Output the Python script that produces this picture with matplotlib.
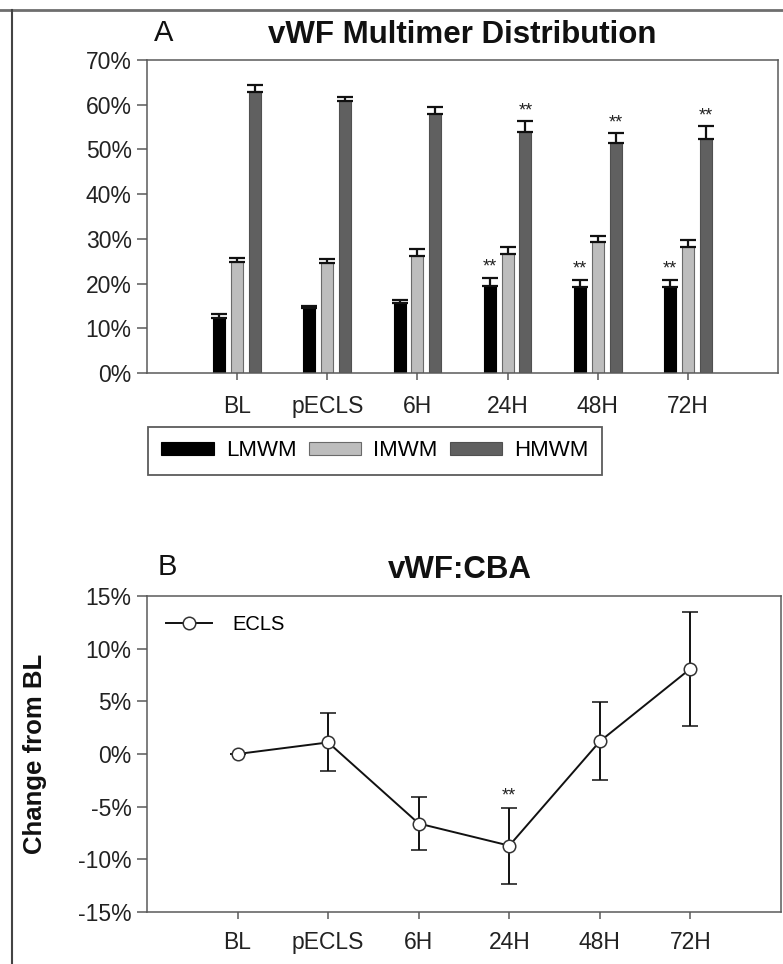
import numpy as np
import matplotlib
matplotlib.use('Agg')
import matplotlib.pyplot as plt
from matplotlib.lines import Line2D
from matplotlib.ticker import MultipleLocator, FuncFormatter

plt.rcParams['font.family'] = ['Liberation Sans', 'DejaVu Sans']

# data
categories = ['BL', 'pECLS', '6H', '24H', '48H', '72H']

lmwm = [12.2, 14.5, 15.6, 19.5, 19.2, 19.2]
lmwm_err = [0.9, 0.5, 0.7, 1.7, 1.5, 1.5]
imwm = [24.8, 24.5, 26.2, 26.6, 29.2, 28.2]
imwm_err = [1.0, 1.0, 1.6, 1.5, 1.4, 1.6]
hmwm = [62.9, 60.9, 57.9, 53.9, 51.4, 52.4]
hmwm_err = [1.5, 0.8, 1.7, 2.5, 2.3, 2.8]
lmwm_sig = [3, 4, 5]      # '**' over LMWM
hmwm_sig = [3, 4, 5]      # '**' over HMWM

cba = [0.0, 1.1, -6.6, -8.7, 1.2, 8.1]
cba_err = [0.0, 2.75, 2.55, 3.6, 3.7, 5.4]
cba_sig = [3]

W, H = 783, 964
fig = plt.figure(figsize=(W / 100, H / 100), dpi=100)

spine_c = '#5a5a5a'
tick_fs = 16.5

def style_axes(ax, xpad):
    for s in ax.spines.values():
        s.set_color(spine_c)
        s.set_linewidth(1.1)
    ax.tick_params(axis='y', direction='out', length=7, width=1.1, color=spine_c,
                   labelsize=tick_fs, pad=4, colors='#222222')
    ax.tick_params(axis='x', direction='out', length=5, width=1.1, color=spine_c,
                   labelsize=tick_fs, pad=xpad, colors='#222222')
    ax.set_xlim(-1, 6)
    ax.set_xticks(np.arange(len(categories)))
    ax.set_xticklabels(categories)
    ax.yaxis.set_major_formatter(FuncFormatter(lambda v, p: '{:.0f}%'.format(v)))

# ---------------- panel A
axA = fig.add_axes([147 / W, 1 - 373 / H, 631 / W, 313 / H])
x = np.arange(len(categories))
bw = 0.132
off = 0.198
ekw = dict(ecolor='#111111', elinewidth=1.6, capsize=6, capthick=1.6)
b1 = axA.bar(x - off, lmwm, bw, color='#000000', edgecolor='#000000', lw=0.8, label='LMWM',
             yerr=[np.zeros(6), lmwm_err], error_kw=ekw)
b2 = axA.bar(x, imwm, bw, color='#bdbdbd', edgecolor='#6a6a6a', lw=0.8, label='IMWM',
             yerr=[np.zeros(6), imwm_err], error_kw=ekw)
b3 = axA.bar(x + off, hmwm, bw, color='#606060', edgecolor='#505050', lw=0.8, label='HMWM',
             yerr=[np.zeros(6), hmwm_err], error_kw=ekw)
for i in lmwm_sig:
    axA.text(i - off, lmwm[i] + lmwm_err[i] + 1.5, '**', ha='center', va='baseline',
             fontsize=13, color='#222222')
for i in hmwm_sig:
    axA.text(i + off, hmwm[i] + hmwm_err[i] + 1.2, '**', ha='center', va='baseline',
             fontsize=13, color='#222222')
axA.set_ylim(0, 70)
axA.yaxis.set_major_locator(MultipleLocator(10))
style_axes(axA, 11)

leg = fig.legend(handles=[b1, b2, b3], labels=['LMWM', 'IMWM', 'HMWM'], ncol=3,
                 loc='upper left', bbox_to_anchor=(148 / W, 1 - 427 / H),
                 fontsize=16, frameon=True, fancybox=False, handlelength=2.35,
                 handleheight=0.5, handletextpad=0.55, columnspacing=0.55,
                 borderpad=0.6, borderaxespad=0)
leg.get_frame().set_edgecolor('#333333')
leg.get_frame().set_linewidth(1.3)

fig.text(462 / W, 1 - 35 / H, 'vWF Multimer Distribution', ha='center', va='center',
         fontsize=22.5, fontweight='bold', color='#111111')
fig.text(164 / W, 1 - 33 / H, 'A', ha='center', va='center', fontsize=21, color='#111111')

# ---------------- panel B
axB = fig.add_axes([147 / W, 1 - 912 / H, 634 / W, 316 / H])
axB.errorbar(x, cba, yerr=cba_err, color='#111111', lw=1.4, marker='o', ms=9,
             mfc='white', mec='#333333', mew=1.1, ecolor='#111111', elinewidth=1.4,
             capsize=6, capthick=1.4)
for i in cba_sig:
    axB.text(i, cba[i] + cba_err[i] + 0.7, '**', ha='center', va='baseline',
             fontsize=13, color='#222222')
axB.set_ylim(-15, 15)
axB.yaxis.set_major_locator(MultipleLocator(5))
style_axes(axB, 9)
h_ecls = Line2D([], [], color='#111111', lw=1.4, marker='o', ms=9, mfc='white',
                mec='#333333', mew=1.1)
axB.legend(handles=[h_ecls], labels=['ECLS'], loc='upper left', frameon=False,
           fontsize=14.5, handlelength=2.3, handletextpad=1.0, borderaxespad=0.55)

fig.text(35 / W, 1 - 754 / H, 'Change from BL', rotation=90, ha='center', va='center',
         fontsize=18.5, fontweight='bold', color='#111111')

fig.text(460 / W, 1 - 570 / H, 'vWF:CBA', ha='center', va='center',
         fontsize=22.5, fontweight='bold', color='#111111')
fig.text(167 / W, 1 - 567 / H, 'B', ha='center', va='center', fontsize=21, color='#111111')

# frame lines of the original figure
fig.add_artist(Line2D([0, 1], [1 - 10 / H] * 2, color='#6e6e6e', lw=2))
fig.add_artist(Line2D([12 / W] * 2, [0, 1 - 10 / H], color='#444444', lw=1.5))

fig.savefig('out.png', dpi=100)
